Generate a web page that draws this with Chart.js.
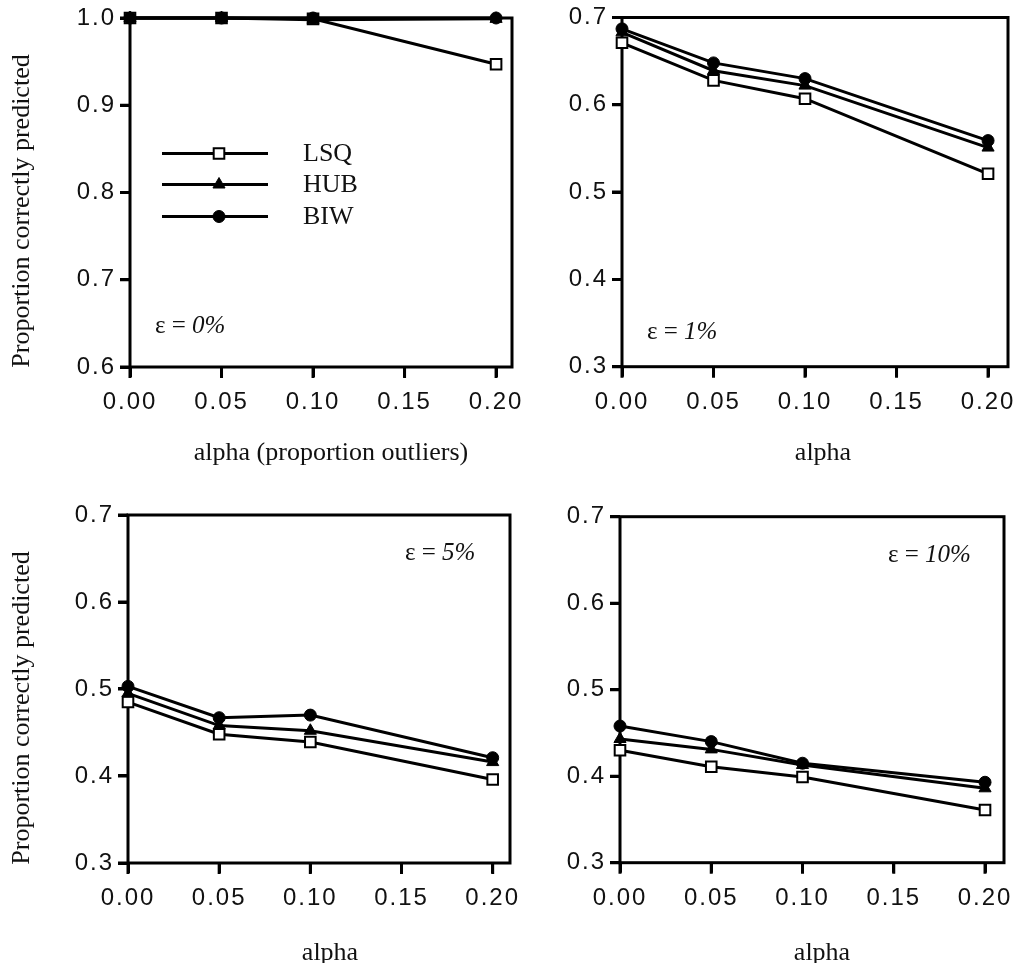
<!DOCTYPE html>
<html>
<head>
<meta charset="utf-8">
<script src="https://cdn.jsdelivr.net/npm/chart.js@4.4.1/dist/chart.umd.min.js"></script>
<style>
  html, body { margin: 0; padding: 0; background: #fff; }
  #wrap { position: relative; width: 1020px; height: 963px; overflow: hidden; }
  canvas { position: absolute; }
</style>
</head>
<body>
<div id="wrap">
  <canvas id="c0" width="550" height="470" style="left:0;top:0"></canvas>
  <canvas id="c1" width="510" height="470" style="left:510px;top:0"></canvas>
  <canvas id="c2" width="550" height="493" style="left:0;top:470px"></canvas>
  <canvas id="c3" width="510" height="493" style="left:510px;top:470px"></canvas>
</div>
<script>
// --- données ---
const alphas = [0.00, 0.05, 0.10, 0.20];
const methodes = ['LSQ', 'HUB', 'BIW'];

// epsilon = 0%
const lsq0 = [1.000, 1.000, 0.999, 0.947];
const hub0 = [1.000, 1.000, 0.998, 0.999];
const biw0 = [1.000, 1.000, 1.000, 1.000];
// epsilon = 1%
const lsq1 = [0.671, 0.628, 0.607, 0.521];
const hub1 = [0.683, 0.639, 0.622, 0.551];
const biw1 = [0.687, 0.648, 0.630, 0.559];
// epsilon = 5%
const lsq5 = [0.485, 0.448, 0.439, 0.396];
const hub5 = [0.495, 0.458, 0.452, 0.416];
const biw5 = [0.503, 0.467, 0.470, 0.421];
// epsilon = 10%
const lsq10 = [0.430, 0.411, 0.399, 0.361];
const hub10 = [0.443, 0.431, 0.413, 0.386];
const biw10 = [0.458, 0.440, 0.415, 0.393];

const xTicks = [0.00, 0.05, 0.10, 0.15, 0.20];
const yTicksHaut = [0.6, 0.7, 0.8, 0.9, 1.0];
const yTicksBas = [0.3, 0.4, 0.5, 0.6, 0.7];

const yTitre = 'Proportion correctly predicted';

// --- mise en page des 4 panneaux (coordonnées dans chaque canvas) ---
const panneaux = [
  { id: 'c0', series: [lsq0, hub0, biw0], yTicks: yTicksHaut, xmax: 0.2087,
    plot: { l: 130, r: 512, t: 18, b: 367 }, eps: '0%', epsPos: [155, 326],
    xTitre: 'alpha (proportion outliers)', xTitrePos: [331, 460],
    yTitrePos: [22, 211], legende: true },
  { id: 'c1', series: [lsq1, hub1, biw1], yTicks: yTicksBas, xmax: 0.2109,
    plot: { l: 112, r: 498, t: 17.5, b: 366.7 }, eps: '1%', epsPos: [137, 332],
    xTitre: 'alpha', xTitrePos: [313, 460] },
  { id: 'c2', series: [lsq5, hub5, biw5], yTicks: yTicksBas, xmax: 0.2095,
    plot: { l: 128, r: 510, t: 45, b: 393 }, eps: '5%', epsPos: [405, 83],
    xTitre: 'alpha', xTitrePos: [330, 490], yTitrePos: [22, 238] },
  { id: 'c3', series: [lsq10, hub10, biw10], yTicks: yTicksBas, xmax: 0.2104,
    plot: { l: 110, r: 494, t: 46.7, b: 392.7 }, eps: '10%', epsPos: [378, 85],
    xTitre: 'alpha', xTitrePos: [312, 490] }
];

// styles des marqueurs pour LSQ, HUB, BIW
const styles = [
  { pointStyle: 'rect', pointRadius: 7.5, pointBackgroundColor: '#fff', pointBorderWidth: 2, order: 3 },
  { pointStyle: 'triangle', pointRadius: 7, pointBackgroundColor: '#000', pointBorderWidth: 1, order: 2 },
  { pointStyle: 'circle', pointRadius: 6, pointBackgroundColor: '#000', pointBorderWidth: 1, order: 1 }
];

const serif = "'Liberation Serif', 'Times New Roman', serif";
const sans = "'Liberation Sans', Arial, sans-serif";

function marqueur(ctx, st, x, y) {
  if (Chart.helpers && Chart.helpers.drawPoint) {
    ctx.fillStyle = st.pointBackgroundColor;
    ctx.strokeStyle = '#000';
    ctx.lineWidth = st.pointBorderWidth;
    Chart.helpers.drawPoint(ctx, { pointStyle: st.pointStyle, radius: st.pointRadius, borderWidth: st.pointBorderWidth }, x, y);
  }
}

// plugin : cadre, graduations, titres, étiquette epsilon, légende
function decor(p) {
  return {
    id: 'decor',
    beforeDraw(chart) { chart.ctx.letterSpacing = '2px'; },
    beforeDatasetsDraw(chart) {
      const ctx = chart.ctx, a = chart.chartArea;
      const sx = chart.scales.x, sy = chart.scales.y;
      ctx.letterSpacing = '0px';
      ctx.save();
      ctx.lineWidth = 3;
      ctx.strokeStyle = '#000';
      ctx.strokeRect(a.left, a.top, a.right - a.left, a.bottom - a.top);
      // petites graduations vers l'extérieur
      ctx.beginPath();
      sx.ticks.forEach(t => {
        const px = sx.getPixelForValue(t.value);
        ctx.moveTo(px, a.bottom);
        ctx.lineTo(px, a.bottom + 11);
      });
      sy.ticks.forEach(t => {
        const py = sy.getPixelForValue(t.value);
        ctx.moveTo(a.left - 10, py);
        ctx.lineTo(a.left, py);
      });
      ctx.stroke();
      ctx.restore();
    },
    afterDraw(chart) {
      const ctx = chart.ctx;
      ctx.save();
      ctx.letterSpacing = '0px';
      ctx.fillStyle = '#111';

      // titre axe x
      ctx.textBaseline = 'alphabetic';
      ctx.font = '26px ' + serif;
      ctx.textAlign = 'center';
      ctx.fillText(p.xTitre, p.xTitrePos[0], p.xTitrePos[1]);

      ctx.textBaseline = 'middle';
      // titre axe y (seulement à gauche)
      if (p.yTitrePos) {
        ctx.save();
        ctx.translate(p.yTitrePos[0], p.yTitrePos[1]);
        ctx.rotate(-Math.PI / 2);
        ctx.font = '26px ' + serif;
        ctx.fillText(yTitre, 0, 0);
        ctx.restore();
      }

      // étiquette epsilon
      ctx.textAlign = 'left';
      ctx.font = '25px ' + serif;
      const debut = '\u03B5 = ';
      ctx.fillText(debut, p.epsPos[0], p.epsPos[1]);
      const w = ctx.measureText(debut).width;
      ctx.font = 'italic 25px ' + serif;
      ctx.fillText(p.eps, p.epsPos[0] + w, p.epsPos[1]);

      // légende
      if (p.legende) {
        const ys = [153.5, 184.5, 216.5];
        methodes.forEach((nom, i) => {
          ctx.strokeStyle = '#000';
          ctx.lineWidth = 3;
          ctx.beginPath();
          ctx.moveTo(162, ys[i]);
          ctx.lineTo(268, ys[i]);
          ctx.stroke();
          marqueur(ctx, styles[i], 219, ys[i]);
          ctx.fillStyle = '#111';
          ctx.font = '26px ' + serif;
          ctx.fillText(nom, 303, ys[i] + 1);
        });
      }
      ctx.restore();
    }
  };
}

panneaux.forEach(p => {
  const canvas = document.getElementById(p.id);
  const datasets = p.series.map((vals, i) => ({
    label: methodes[i],
    data: alphas.map((a, k) => ({ x: a, y: vals[k] })),
    borderColor: '#000',
    borderWidth: 3,
    pointBorderColor: '#000',
    tension: 0,
    clip: false,
    ...styles[i]
  }));

  new Chart(canvas.getContext('2d'), {
    type: 'line',
    data: { datasets },
    options: {
      responsive: false,
      animation: false,
      devicePixelRatio: 1,
      layout: { padding: { left: 0, top: p.plot.t, right: canvas.width - p.plot.r, bottom: 0 } },
      plugins: { legend: { display: false }, tooltip: { enabled: false } },
      scales: {
        x: {
          type: 'linear',
          min: 0,
          max: p.xmax,
          afterFit: s => {
            s.height = canvas.height - p.plot.b;
            s.paddingLeft = 0;   // pas de marge pour le débordement des étiquettes
            s.paddingRight = 0;
          },
          afterBuildTicks: s => { s.ticks = xTicks.map(v => ({ value: v })); },
          border: { display: false },
          grid: { drawOnChartArea: false, drawTicks: true, tickLength: 10, lineWidth: 3, color: '#000' },
          ticks: {
            color: '#111',
            padding: 11,
            maxRotation: 0,
            font: { family: sans, size: 24 },
            callback: v => Number(v).toFixed(2)
          }
        },
        y: {
          min: p.yTicks[0],
          max: p.yTicks[p.yTicks.length - 1],
          afterFit: s => {
            s.width = p.plot.l;
            s.paddingTop = 0;
            s.paddingBottom = 0;
          },
          afterBuildTicks: s => { s.ticks = p.yTicks.map(v => ({ value: v })); },
          border: { display: false },
          grid: { drawOnChartArea: false, drawTicks: true, tickLength: 10, lineWidth: 3, color: '#000' },
          ticks: {
            color: '#111',
            padding: 4,
            font: { family: sans, size: 24 },
            callback: v => Number(v).toFixed(1)
          }
        }
      }
    },
    plugins: [decor(p)]
  });
});
</script>
</body>
</html>
